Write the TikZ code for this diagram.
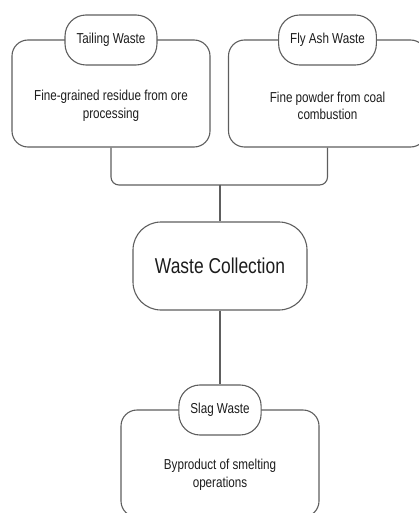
\documentclass[tikz,border=0pt]{standalone}
\usepackage{fontspec}
\setmainfont[FakeStretch=0.81]{Liberation Sans}
\definecolor{linecol}{HTML}{5E5E5E}
\definecolor{txtcol}{HTML}{1C1C1C}
\tikzset{
  bigbox/.style={draw=linecol, line width=1.1pt, rounded corners=16pt, minimum width=198pt, minimum height=107pt, inner sep=0pt},
  tagbox/.style={draw=linecol, line width=1.1pt, fill=white, rounded corners=21pt, minimum height=50pt, inner xsep=11.5pt, inner ysep=0pt, font=\fontsize{14.4}{17}\selectfont, text=txtcol},
  desc/.style={align=center, font=\fontsize{14.4}{17.5}\selectfont, text=txtcol, inner sep=0pt},
  hub/.style={draw=linecol, line width=1.1pt, rounded corners=28pt, minimum width=174pt, minimum height=88pt, font=\fontsize{21.5}{24}\selectfont, text=txtcol},
  conn/.style={draw=linecol, line width=1.1pt, rounded corners=8pt}
}
\begin{document}
\begin{tikzpicture}[x=1pt,y=-1pt]
\useasboundingbox (0,0) rectangle (419,513);
% boxes
\node[bigbox] (tailbox) at (111,93.5) {};
\node[bigbox] (flybox) at (327.5,93.5) {};
\node[bigbox] (slagbox) at (220,463.5) {};
% descriptions
\node[desc] (taildesc) at (111,106) {Fine-grained residue from ore\\processing};
\node[desc] (flydesc) at (327.5,106) {Fine powder from coal\\combustion};
\node[desc] (slagdesc) at (220,475) {Byproduct of smelting\\operations};
% tags
\node[tagbox] (tailtag) at (111,40) {Tailing Waste};
\node[tagbox] (flytag) at (327.5,40) {Fly Ash Waste};
\node[tagbox] (slagtag) at (220,410) {Slag Waste};
% hub
\node[hub] (hub) at (220,266) {Waste Collection};
% connectors
\coordinate (join) at (220,185);
\draw[conn] (tailbox.south) |- (join);
\draw[conn] (flybox.south) |- (join);
\draw[conn] (join) -- (hub.north);
\draw[conn] (hub.south) -- (slagtag.north);
\end{tikzpicture}
\end{document}
